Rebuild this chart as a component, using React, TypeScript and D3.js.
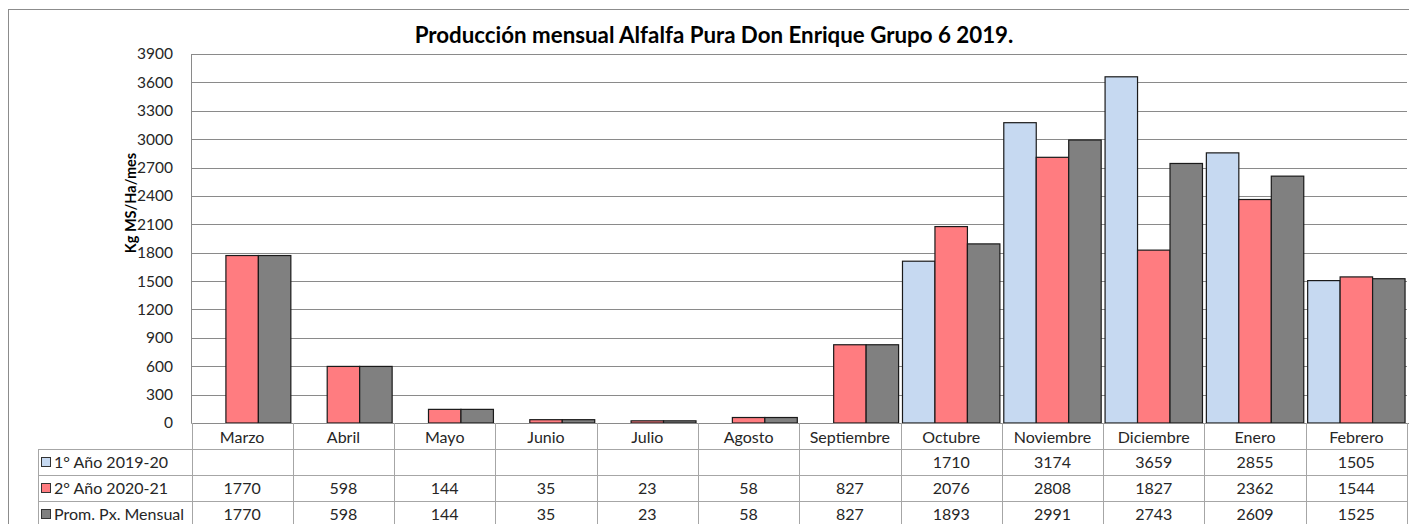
import * as d3 from 'd3';

const months = ['Marzo', 'Abril', 'Mayo', 'Junio', 'Julio', 'Agosto', 'Septiembre', 'Octubre', 'Noviembre', 'Diciembre', 'Enero', 'Febrero'];
const anio1 = [null, null, null, null, null, null, null, 1710, 3174, 3659, 2855, 1505];
const anio2 = [1770, 598, 144, 35, 23, 58, 827, 2076, 2808, 1827, 2362, 1544];
const promedio = [1770, 598, 144, 35, 23, 58, 827, 1893, 2991, 2743, 2609, 1525];
const seriesNames = ['1° Año 2019-20', '2° Año 2020-21', 'Prom. Px. Mensual'];
const seriesColors = ['#C6D9F1', '#FF7C80', '#808080'];
const yTicks = [0, 300, 600, 900, 1200, 1500, 1800, 2100, 2400, 2700, 3000, 3300, 3600, 3900];

const W = 1409;
const H = 524;
const font = 'Lato, "Open Sans", sans-serif';

export default function App() {
  const left = 191.5, right = 1407, top = 54, bottom = 423;
  const rowH = 26;
  const legendLeft = 38;

  const series = [anio1, anio2, promedio];

  const x = d3.scaleBand().domain(months).range([left, right]).paddingInner(0).paddingOuter(0);
  const inner = d3.scaleBand().domain(['0', '1', '2']).range([0, x.bandwidth()]).paddingInner(0).paddingOuter(0.06);
  const y = d3.scaleLinear().domain([0, 3900]).range([bottom, top]);

  const rows = series.map((s, i) => ({ name: seriesNames[i], color: seriesColors[i], values: s }));

  return (
    <div style={{ position: 'absolute', left: 0, top: 0 }}>
      <svg width={W} height={H} style={{ display: 'block', background: '#fff' }}>
        {/* chart frame */}
        <rect x={8.5} y={9.5} width={W + 20} height={H + 20} fill="#fff" stroke="#8c8c8c" strokeWidth={1} />

        <text x={714} y={43} textAnchor="middle" fontFamily={font} fontWeight="bold" fontSize={22.3} fill="#000">
          Producción mensual Alfalfa Pura Don Enrique Grupo 6 2019.
        </text>

        {/* gridlines and y labels */}
        {yTicks.map(t => (
          <g key={t}>
            <line x1={left} x2={right} y1={Math.round(y(t)) + 0.5} y2={Math.round(y(t)) + 0.5} stroke="#8a8a8a" strokeWidth={1} />
            <text x={173} y={y(t)} dy="0.35em" textAnchor="end" fontFamily={font} fontSize={15.5} fill="#262626">{t}</text>
          </g>
        ))}
        <line x1={left} x2={left} y1={top} y2={bottom} stroke="#8a8a8a" />

        <text transform={`translate(136,203) rotate(-90)`} textAnchor="middle" fontFamily={font} fontWeight="bold" fontSize={14.5} fill="#000">
          Kg MS/Ha/mes
        </text>

        {/* bars */}
        {rows.map((r, si) => (
          <g key={r.name}>
            {r.values.map((v, i) => v == null ? null : (
              <rect
                key={i}
                x={(x(months[i]) ?? 0) + (inner(String(si)) ?? 0)}
                y={y(v)}
                width={inner.bandwidth()}
                height={y(0) - y(v)}
                fill={r.color}
                stroke="#1a1a1a"
                strokeWidth={1.2}
              />
            ))}
          </g>
        ))}

        {/* data table */}
        <line x1={left} x2={right + 10} y1={bottom + 0.5} y2={bottom + 0.5} stroke="#8a8a8a" />
        {months.map((m, i) => (
          <g key={m}>
            <line x1={Math.round(x(m) ?? 0) + 0.5} x2={Math.round(x(m) ?? 0) + 0.5} y1={bottom} y2={H} stroke="#a6a6a6" />
            <text x={(x(m) ?? 0) + x.bandwidth() / 2} y={bottom + rowH / 2 + 1} dy="0.35em" textAnchor="middle" fontFamily={font} fontSize={16} fill="#262626">{m}</text>
          </g>
        ))}
        <line x1={right + 0.5} x2={right + 0.5} y1={bottom} y2={H} stroke="#a6a6a6" />
        {rows.map((r, ri) => {
          const ry = bottom + rowH * (ri + 1);
          return (
            <g key={r.name}>
              <line x1={legendLeft} x2={right} y1={Math.round(ry) + 0.5} y2={Math.round(ry) + 0.5} stroke="#a6a6a6" />
              <rect x={legendLeft + 3.5} y={ry + 8.5} width={9} height={9} fill={r.color} stroke="#333" strokeWidth={1} />
              <text x={legendLeft + 16} y={ry + rowH / 2} dy="0.35em" fontFamily={font} fontSize={16} fill="#262626">{r.name}</text>
              {r.values.map((v, i) => v == null ? null : (
                <text key={i} x={(x(months[i]) ?? 0) + x.bandwidth() / 2} y={ry + rowH / 2} dy="0.35em" textAnchor="middle" fontFamily={font} fontSize={16} fill="#262626">{v}</text>
              ))}
            </g>
          );
        })}
        <line x1={legendLeft + 0.5} x2={legendLeft + 0.5} y1={bottom + rowH} y2={H} stroke="#a6a6a6" />
      </svg>
    </div>
  );
}
